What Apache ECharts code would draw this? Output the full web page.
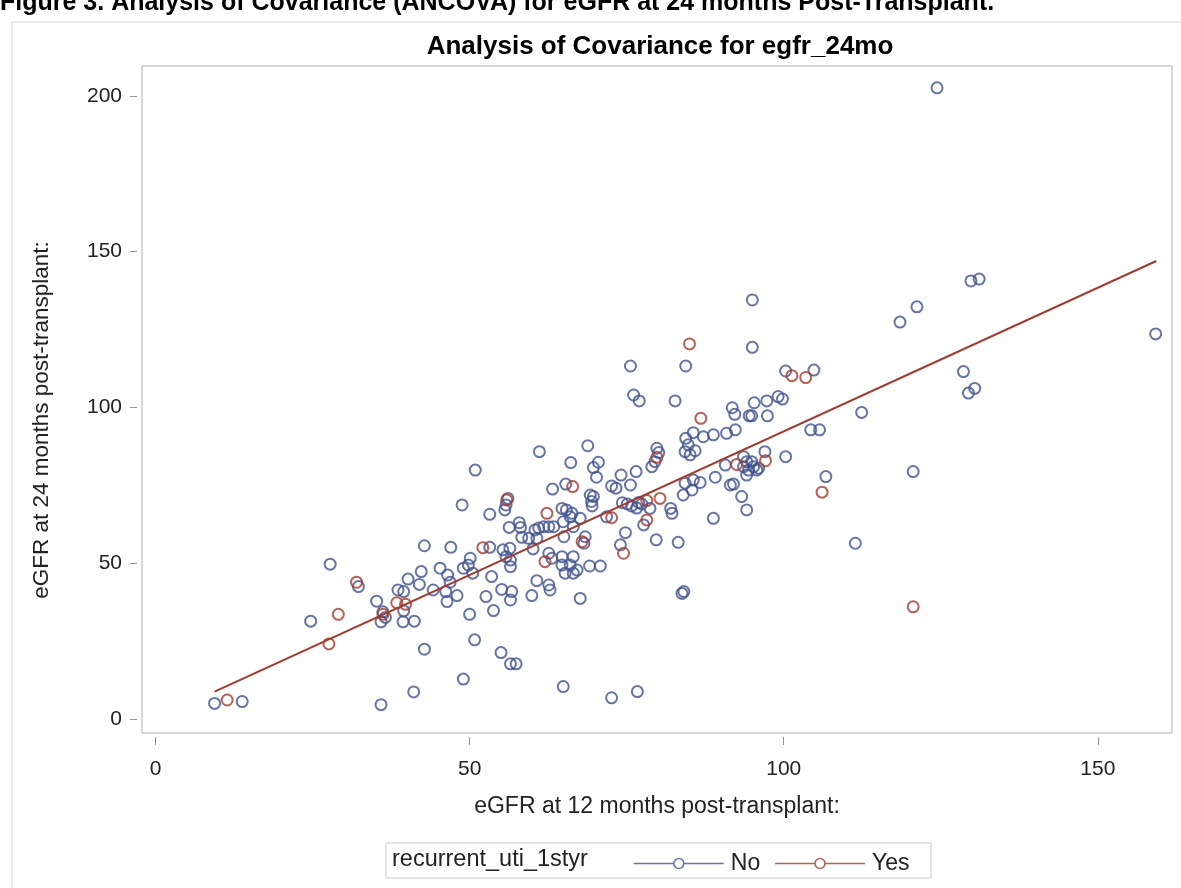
<!DOCTYPE html>
<html>
<head>
<meta charset="utf-8">
<script src="https://cdn.jsdelivr.net/npm/echarts@6/dist/echarts.min.js"></script>
<style>
  html, body { margin: 0; padding: 0; background: #fff; }
  #chart { width: 1181px; height: 888px; }
</style>
</head>
<body>
<div id="chart"></div>
<script>
// eGFR at 12 months (x) vs eGFR at 24 months (y), recurrent_uti_1styr = No
const noPoints = [
  [9.4, 5.0], [13.8, 5.6], [27.8, 49.7], [32.3, 42.5], [24.7, 31.4], [35.2, 37.8],
  [36.2, 34.4], [35.9, 31.2], [36.6, 32.6], [38.6, 41.4], [39.5, 40.9], [39.5, 34.7],
  [39.4, 31.2], [41.2, 31.4], [40.2, 44.9], [42.3, 47.3], [42.0, 43.2], [42.8, 55.6],
  [42.8, 22.4], [41.1, 8.7], [35.9, 4.6], [44.2, 41.4],
  [50.9, 79.9], [48.8, 68.7], [53.2, 65.7], [56.1, 70.8], [55.8, 68.7], [55.6, 67.1],
  [56.3, 61.5], [57.9, 63.0], [58.1, 61.5], [58.3, 58.3], [59.4, 58.0], [60.4, 60.7],
  [60.7, 58.0], [60.1, 54.6], [47.0, 55.1], [53.2, 55.1], [55.3, 54.3], [56.4, 54.8],
  [55.8, 52.1], [56.5, 51.0], [56.5, 48.9], [50.1, 51.6], [49.8, 49.4], [49.0, 48.4],
  [50.5, 46.8], [45.3, 48.4], [46.5, 46.2], [46.9, 43.9], [46.2, 40.9], [48.0, 39.6],
  [46.4, 37.7], [53.5, 45.7], [52.6, 39.3], [55.1, 41.6], [56.7, 40.9], [56.5, 38.2],
  [59.9, 39.6], [60.7, 44.4], [61.1, 85.8],
  [68.8, 87.7], [66.1, 82.3], [70.5, 82.4], [69.7, 80.7], [70.2, 77.6], [74.1, 78.3],
  [76.5, 79.4], [72.6, 74.8], [73.3, 74.1], [75.6, 75.1], [63.2, 73.8], [65.3, 75.4],
  [69.2, 71.9], [69.7, 71.4], [69.4, 69.8], [69.5, 68.4], [79.8, 86.9], [79.5, 82.6],
  [79.0, 81.0], [84.4, 90.1], [74.3, 69.4], [75.1, 69.0], [75.8, 68.4], [76.9, 69.5],
  [76.6, 67.7], [77.4, 69.0], [78.7, 67.6], [77.7, 62.3], [82.0, 67.6], [82.2, 66.0],
  [79.7, 57.5], [83.2, 56.7], [88.8, 64.4], [84.3, 75.7], [85.6, 76.7], [86.7, 75.9],
  [84.0, 71.9], [85.4, 73.5], [89.1, 77.6], [90.7, 81.5], [91.5, 75.1], [71.8, 64.9],
  [74.8, 59.8], [74.0, 55.9], [70.8, 49.1], [69.1, 49.1], [68.2, 56.4], [68.4, 58.5],
  [64.7, 67.6], [65.4, 67.1], [66.0, 64.9], [66.3, 66.0], [64.9, 63.3], [66.5, 61.7],
  [67.6, 64.4], [61.0, 61.3], [61.8, 61.7], [62.6, 61.7], [63.4, 61.7], [65.0, 58.5],
  [62.6, 53.2], [63.1, 51.6], [64.7, 52.1], [64.7, 49.4], [66.5, 52.1], [66.0, 49.4],
  [65.2, 46.8], [66.5, 46.8], [67.1, 47.8], [62.6, 43.0], [62.8, 41.4], [67.6, 38.7],
  [83.8, 40.3], [84.1, 40.9],
  [95.0, 119.3], [75.6, 113.3], [84.4, 113.3], [100.3, 111.7], [104.8, 112.0], [76.1, 104.0],
  [77.0, 102.1], [82.7, 102.1], [91.8, 99.9], [92.2, 97.8], [95.3, 101.5], [97.3, 102.1],
  [99.1, 103.5], [99.8, 102.7], [94.5, 97.3], [94.9, 97.3], [97.4, 97.3], [112.4, 98.4],
  [84.8, 88.0], [85.6, 91.9], [87.2, 90.6], [88.8, 91.2], [90.9, 91.7], [92.3, 92.8],
  [85.1, 84.8], [85.9, 86.1], [84.3, 85.8], [80.1, 85.5], [92.0, 75.4], [93.3, 71.4],
  [94.1, 67.1], [93.6, 84.2], [94.1, 82.6], [94.4, 79.9], [95.2, 81.0], [95.7, 79.9],
  [94.1, 78.3], [94.9, 82.6], [97.0, 85.8], [96.0, 80.5], [93.6, 81.0], [100.3, 84.2],
  [106.7, 77.8], [104.3, 92.8], [105.7, 92.8], [111.4, 56.4],
  [128.6, 111.5], [129.4, 104.6], [130.4, 106.1], [120.6, 79.4],
  [124.4, 202.6], [129.8, 140.6], [131.1, 141.2], [121.2, 132.3], [118.5, 127.4],
  [159.2, 123.6], [95.0, 134.5],
  [49.0, 12.8], [50.8, 25.4], [55.0, 21.3], [56.5, 17.7], [57.4, 17.7], [64.9, 10.4],
  [72.6, 6.8], [76.7, 8.8], [50.0, 33.6], [53.8, 34.8]
];

// recurrent_uti_1styr = Yes
const yesPoints = [
  [11.4, 6.1], [32.0, 43.9], [29.1, 33.6], [27.6, 24.1], [36.2, 33.6], [38.4, 37.3],
  [39.8, 36.8], [55.9, 70.3], [52.1, 55.0], [66.4, 74.6], [79.8, 84.0], [78.2, 70.1],
  [80.3, 70.8], [78.2, 63.9], [72.6, 64.6], [74.5, 53.2], [67.9, 56.9], [62.3, 66.0],
  [62.0, 50.5], [85.0, 120.4], [101.3, 110.2], [103.5, 109.6], [86.8, 96.5], [92.5, 81.7],
  [97.1, 82.9], [106.1, 72.8], [120.6, 36.0]
];

// fitted ANCOVA line (end points)
const fitLine = [[9.4, 8.8], [159.3, 147.0]];

const xTicks = [0, 50, 100, 150];
const yTicks = [0, 50, 100, 150, 200];

const BLUE = '#41528f';
const RED = '#A23A2E';
const FONT = '"Liberation Sans", Arial, sans-serif';

const chart = echarts.init(document.getElementById('chart'));

const legendIcon = 'path://M0,5 L40,5 M50,5 L90,5 M50,5 A5,5 0 1,1 40,5 A5,5 0 1,1 50,5';

const option = {
  animation: false,
  backgroundColor: '#fff',
  textStyle: { fontFamily: FONT },
  title: {
    text: 'Analysis of Covariance for egfr_24mo',
    left: 655,
    textAlign: 'center',
    top: 29,
    textStyle: { fontSize: 26, fontWeight: 'bold', color: '#000', fontFamily: FONT }
  },
  grid: {
    left: 142,
    right: 9,
    top: 66,
    bottom: 155,
    show: true,
    borderColor: '#a9b0b6',
    borderWidth: 1
  },
  xAxis: {
    type: 'value',
    min: -2.15,
    max: 161.8,
    offset: 4,
    name: 'eGFR at 12 months post-transplant:',
    nameLocation: 'middle',
    nameGap: 58,
    nameTextStyle: { fontSize: 23, color: '#222' },
    axisLine: { show: false, onZero: false },
    axisTick: { show: true, length: 8, customValues: xTicks, lineStyle: { color: '#8c949a' } },
    axisLabel: { customValues: xTicks, margin: 22, fontSize: 21, color: '#222' },
    splitLine: { show: false }
  },
  yAxis: {
    type: 'value',
    min: -4.5,
    max: 209.6,
    offset: 5,
    axisLine: { show: false, onZero: false },
    axisTick: { show: true, length: 7, customValues: yTicks, lineStyle: { color: '#8c949a' } },
    axisLabel: { customValues: yTicks, margin: 15, fontSize: 21, color: '#222' },
    splitLine: { show: false }
  },
  legend: {
    left: 628,
    top: 847,
    itemWidth: 90,
    itemHeight: 10,
    itemGap: 14,
    textStyle: { fontSize: 23, color: '#222', padding: [0, 0, 0, 2] },
    data: [
      { name: 'No', icon: legendIcon, itemStyle: { color: 'transparent', borderColor: BLUE, borderWidth: 1.6 } },
      { name: 'Yes', icon: legendIcon, itemStyle: { color: 'transparent', borderColor: RED, borderWidth: 1.6 } }
    ]
  },
  graphic: [
    {
      type: 'rect',
      shape: { x: 12, y: 22, width: 1200, height: 900 },
      style: { fill: 'none', stroke: '#cfd3d6', lineWidth: 1 },
      silent: true
    },
    {
      type: 'text',
      x: 0,
      y: 16,
      style: {
        text: 'Figure 3. Analysis of Covariance (ANCOVA) for eGFR at 24 months Post-Transplant.',
        font: 'bold 25px ' + FONT,
        fill: '#000',
        verticalAlign: 'bottom'
      }
    },
    {
      type: 'text',
      x: 42,
      y: 420,
      rotation: Math.PI / 2,
      style: {
        text: 'eGFR at 24 months post-transplant:',
        font: '22.5px ' + FONT,
        fill: '#222',
        align: 'center',
        verticalAlign: 'middle'
      }
    },
    {
      type: 'rect',
      shape: { x: 386, y: 843, width: 545, height: 35 },
      style: { fill: 'none', stroke: '#c4c9cc', lineWidth: 1 },
      silent: true
    },
    {
      type: 'text',
      x: 392,
      y: 860,
      style: {
        text: 'recurrent_uti_1styr',
        font: '23.5px ' + FONT,
        fill: '#222',
        verticalAlign: 'middle'
      }
    }
  ],
  series: [
    {
      name: 'No',
      type: 'scatter',
      data: noPoints,
      symbol: 'circle',
      symbolSize: 11,
      itemStyle: { color: 'transparent', borderColor: BLUE, borderWidth: 2 },
      z: 2
    },
    {
      name: 'Yes',
      type: 'scatter',
      data: yesPoints,
      symbol: 'circle',
      symbolSize: 11,
      itemStyle: { color: 'transparent', borderColor: RED, borderWidth: 2 },
      z: 3
    },
    {
      name: 'Fit',
      type: 'line',
      data: fitLine,
      symbol: 'none',
      lineStyle: { color: RED, width: 2 },
      z: 4
    }
  ]
};

chart.setOption(option);
</script>
</body>
</html>
